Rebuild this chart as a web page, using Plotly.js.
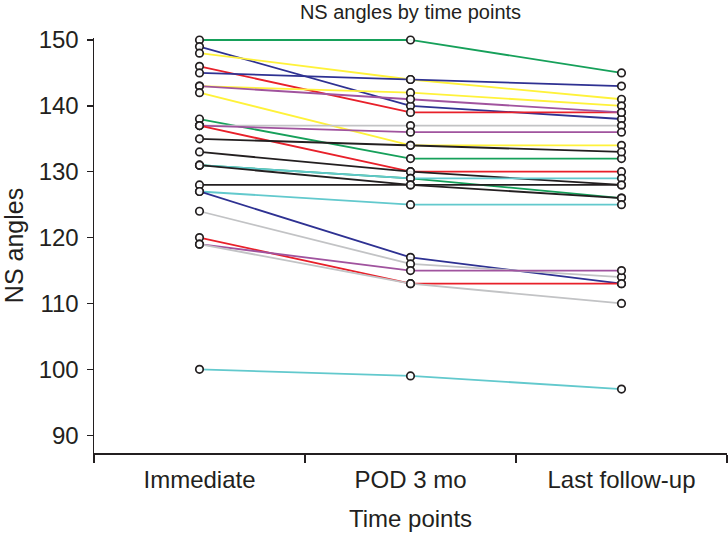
<!DOCTYPE html>
<html>
<head>
<meta charset="utf-8">
<script src="https://cdn.plot.ly/plotly-3.0.1.min.js"></script>
<style>
  html, body { margin: 0; padding: 0; background: #fff; }
  #chart { width: 728px; height: 533px; }
</style>
</head>
<body>
<div id="chart"></div>
<script>
// time points on the x axis
const timePoints = ['Immediate', 'POD 3 mo', 'Last follow-up'];

// NS angle per patient at each time point
const green1  = [150, 150, 145];
const navy1   = [149, 140, 138];
const yellow1 = [148, 144, 141];
const red1    = [146, 139, 139];
const navy2   = [145, 144, 143];
const yellow2 = [143, 142, 140];
const purple1 = [143, 141, 139];
const yellow3 = [142, 134, 134];
const green2  = [138, 132, 132];
const gray1   = [137, 137, 137];
const purple2 = [137, 136, 136];
const red2    = [137, 130, 130];
const black1  = [135, 134, 133];
const black2  = [133, 130, 128];
const green3  = [131, 129, 126];
const cyan1   = [131, 129, 129];
const black3  = [131, 128, 126];
const black4  = [128, 128, 128];
const cyan2   = [127, 125, 125];
const navy3   = [127, 117, 113];
const gray2   = [124, 116, 114];
const red3    = [120, 113, 113];
const purple3 = [119, 115, 115];
const gray3   = [119, 113, 110];
const cyan3   = [100, 99, 97];

const yTicks = [90, 100, 110, 120, 130, 140, 150];

const COLORS = {
  green: '#16a05a',
  navy: '#2e3192',
  yellow: '#fff23a',
  red: '#e8202a',
  purple: '#a0539e',
  gray: '#c2c3c5',
  black: '#231f20',
  cyan: '#62c9cd'
};

// drawing order: later series sit on top
const series = [
  [green1, 'green'], [navy1, 'navy'], [yellow1, 'yellow'], [red1, 'red'],
  [navy2, 'navy'], [yellow2, 'yellow'], [purple1, 'purple'], [yellow3, 'yellow'],
  [green2, 'green'], [gray1, 'gray'], [purple2, 'purple'], [red2, 'red'],
  [black1, 'black'], [black2, 'black'], [green3, 'green'], [cyan1, 'cyan'],
  [black3, 'black'], [black4, 'black'], [cyan2, 'cyan'], [navy3, 'navy'],
  [gray2, 'gray'], [red3, 'red'], [purple3, 'purple'], [gray3, 'gray'],
  [cyan3, 'cyan']
];

const traces = series.map(([values, colorKey]) => ({
  type: 'scatter',
  mode: 'lines+markers',
  x: timePoints,
  y: values,
  line: { color: COLORS[colorKey], width: 1.8 },
  marker: {
    symbol: 'circle',
    size: 7.5,
    color: 'rgba(255,255,255,0.9)',
    line: { color: '#231f20', width: 1.7 }
  },
  cliponaxis: false,
  hoverinfo: 'y'
}));

const FONT = 'Liberation Sans, Arial, Helvetica, sans-serif';

const layout = {
  width: 728,
  height: 533,
  margin: { l: 94, r: 1, t: 38, b: 80 },
  paper_bgcolor: '#fff',
  plot_bgcolor: '#fff',
  showlegend: false,
  font: { family: FONT, color: '#231f20' },
  title: {
    text: 'NS angles by time points',
    font: { size: 20, color: '#231f20' },
    x: 0.5,
    xref: 'paper',
    y: 1 - 12 / 533,
    yref: 'container',
    yanchor: 'middle'
  },
  xaxis: {
    type: 'category',
    range: [-0.5, 2.5],
    tickson: 'boundaries',
    ticks: 'outside',
    ticklen: 8,
    tickwidth: 1.3,
    tickcolor: '#231f20',
    showline: true,
    linecolor: '#231f20',
    linewidth: 1.5,
    showgrid: false,
    zeroline: false,
    tickfont: { size: 24 },
    ticklabelstandoff: 5,
    title: { text: 'Time points', font: { size: 24 }, standoff: 18 }
  },
  yaxis: {
    range: [87.3, 150.3],
    tickvals: yTicks,
    ticks: 'outside',
    ticklen: 6,
    tickwidth: 1.3,
    tickcolor: '#231f20',
    showline: true,
    linecolor: '#231f20',
    linewidth: 1.5,
    showgrid: false,
    zeroline: false,
    tickfont: { size: 24 },
    ticklabelstandoff: 3,
    title: { text: 'NS angles', font: { size: 25 }, standoff: 15 }
  }
};

Plotly.newPlot('chart', traces, layout, { displayModeBar: false, staticPlot: true });
</script>
</body>
</html>
